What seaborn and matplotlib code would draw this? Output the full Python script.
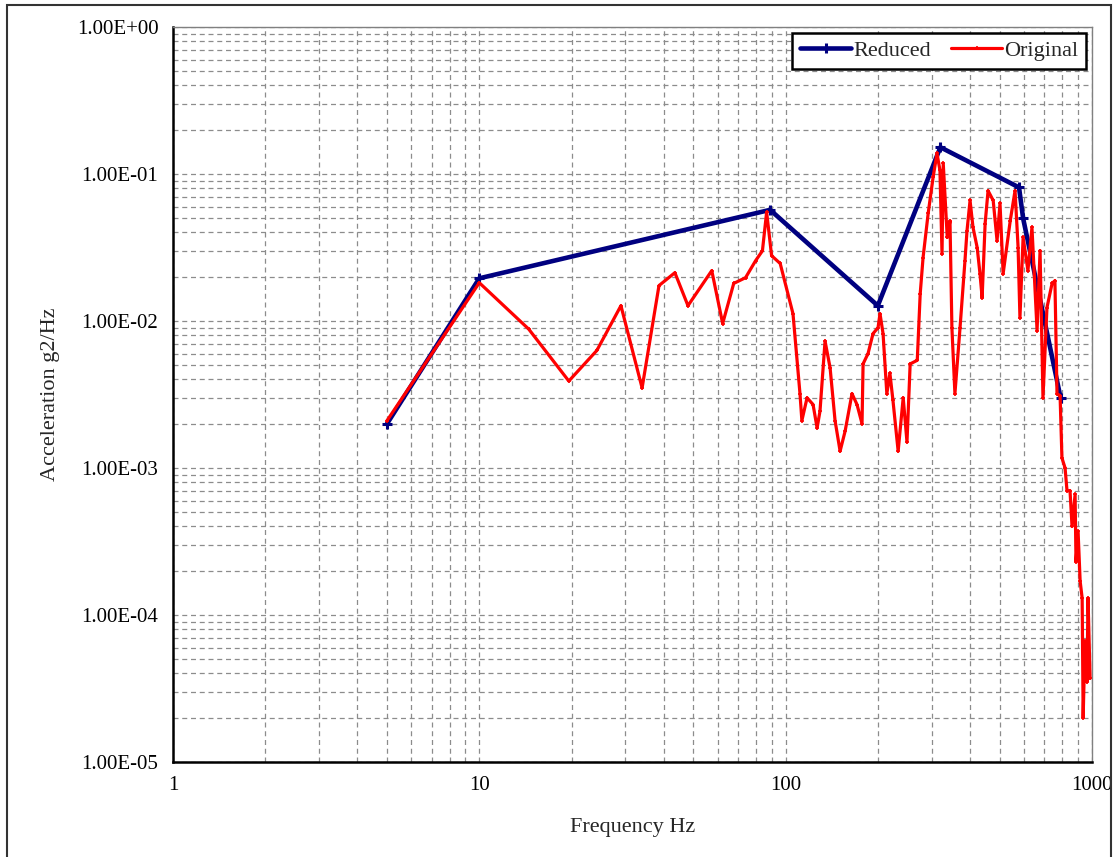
import matplotlib
matplotlib.use("Agg")
import matplotlib.pyplot as plt
import seaborn as sns
import pandas as pd
from matplotlib.patches import Rectangle
from matplotlib.ticker import LogLocator, FixedLocator, NullFormatter

# ---- data ----
reduced_freq = [5, 10, 89, 200, 320, 578, 596, 790]
reduced_psd = [0.0020, 0.0195, 0.0570, 0.0127, 0.152, 0.081, 0.050, 0.0030]

original_freq = [5, 10, 14.5, 19.6, 24.2, 29, 34, 38.6, 43.5, 48, 57.4, 62.3, 67.7, 74, 79.8, 84,
                 86.7, 90, 96, 105.7, 111.4, 113, 117.5, 122.9, 126.7, 129.5, 134.5, 139.7, 145,
                 150.6, 156.4, 164.7, 171, 177.6, 179, 185.8, 192.9, 200.3, 203.3, 208, 214, 219,
                 224, 233, 242, 249, 255, 269, 275, 281, 292, 303, 312, 319, 324, 327, 337, 344,
                 349, 357, 371, 385, 391, 400, 409, 422, 431, 438, 448, 458, 476, 490, 501, 513,
                 541, 561, 574, 582, 596, 618, 637, 662, 677, 692, 713, 741, 757, 769, 787, 798,
                 817, 829, 848, 861, 881, 887, 901, 915, 929, 936, 949, 963, 971, 986]
original_psd = [0.0021, 0.0182, 0.0088, 0.0039, 0.0063, 0.0127, 0.0035, 0.0174, 0.0213, 0.0127,
                0.022, 0.0096, 0.018, 0.0197, 0.0257, 0.030, 0.055, 0.0278, 0.0246, 0.0112,
                0.0032, 0.0021, 0.0030, 0.0027, 0.00187, 0.00244, 0.0073, 0.0048, 0.0021, 0.0013,
                0.00178, 0.0032, 0.0027, 0.0020, 0.0051, 0.0060, 0.0082, 0.0090, 0.0112, 0.0082,
                0.0032, 0.0044, 0.0029, 0.0013, 0.0030, 0.0015, 0.0051, 0.0054, 0.0153, 0.027,
                0.054, 0.095, 0.138, 0.106, 0.0287, 0.118, 0.037, 0.048, 0.0090, 0.0032, 0.0090,
                0.0257, 0.0412, 0.066, 0.0433, 0.0316, 0.021, 0.0144, 0.046, 0.077, 0.066, 0.0352,
                0.063, 0.021, 0.048, 0.077, 0.0316, 0.0105, 0.037, 0.022, 0.0433, 0.0086, 0.0301,
                0.0030, 0.0123, 0.018, 0.0188, 0.0032, 0.0031, 0.00117, 0.0010, 0.0007, 0.0007,
                0.0004, 0.00066, 0.00023, 0.00037, 0.00017, 0.00013, 0.00002, 0.000066, 0.000035,
                0.00013, 0.000037]

y_ticks = [1e-5, 1e-4, 1e-3, 1e-2, 1e-1, 1]
y_tick_labels = ["1.00E-05", "1.00E-04", "1.00E-03", "1.00E-02", "1.00E-01", "1.00E+00"]
x_ticks = [1, 10, 100, 1000]
x_tick_labels = ["1", "10", "100", "1000"]

# ---- style ----
sns.set_style("white")
plt.rcParams["font.family"] = ["Liberation Serif", "DejaVu Serif"]

BLUE = "#000080"
RED = "#FF0000"

fig = plt.figure(figsize=(11.18, 8.57), dpi=100)
ax = fig.add_axes([0.1547, 0.111, 0.822, 0.8575])

df_red = pd.DataFrame({"f": original_freq, "p": original_psd})
df_blue = pd.DataFrame({"f": reduced_freq, "p": reduced_psd})

sns.lineplot(data=df_blue, x="f", y="p", ax=ax, color=BLUE, linewidth=3.3,
             marker="+", markersize=7, markeredgewidth=2.2, markeredgecolor=BLUE,
             markerfacecolor=BLUE, sort=False, estimator=None, label="Reduced", zorder=3)
sns.lineplot(data=df_red, x="f", y="p", ax=ax, color=RED, linewidth=2.3,
             marker="+", markersize=3, markeredgewidth=1.2, markeredgecolor=RED,
             markerfacecolor=RED, sort=False, estimator=None, label="Original", zorder=4)

ax.set_xscale("log")
ax.set_yscale("log")
ax.set_xlim(1, 1000)
ax.set_ylim(1e-5, 1)

ax.xaxis.set_major_locator(FixedLocator(x_ticks))
ax.set_xticklabels(x_tick_labels)
ax.yaxis.set_major_locator(FixedLocator(y_ticks))
ax.set_yticklabels(y_tick_labels)
ax.xaxis.set_minor_locator(LogLocator(base=10, subs=range(2, 10)))
ax.yaxis.set_minor_locator(LogLocator(base=10, subs=range(2, 10)))
ax.xaxis.set_minor_formatter(NullFormatter())
ax.yaxis.set_minor_formatter(NullFormatter())

ax.grid(True, which="both", color="#8c8c8c", linestyle=(0, (4, 3)), linewidth=0.9)
ax.set_axisbelow(True)

ax.tick_params(axis="both", which="major", direction="inout", length=9, width=1.5,
               labelsize=15, colors="black", pad=6)
ax.tick_params(axis="both", which="minor", length=0)

for side in ["left", "bottom"]:
    ax.spines[side].set_color("black")
    ax.spines[side].set_linewidth(1.8)
for side in ["top", "right"]:
    ax.spines[side].set_color("#808080")
    ax.spines[side].set_linewidth(1.0)

ax.set_xlabel("Frequency Hz", fontsize=16, labelpad=16)
ax.set_ylabel("Acceleration g2/Hz", fontsize=16, labelpad=12)

leg = ax.legend(loc="upper right", ncol=2, fontsize=16, frameon=True, fancybox=False,
                edgecolor="black", framealpha=1, handlelength=2.3, handletextpad=0.1,
                columnspacing=0.9, borderaxespad=0.25, borderpad=0.35)
leg.get_frame().set_linewidth(1.8)

fig.patches.append(Rectangle((0.006, -0.01), 0.988, 1.004, transform=fig.transFigure,
                             fill=False, edgecolor="#333333", linewidth=1.5))

fig.savefig("out.png", dpi=100)
